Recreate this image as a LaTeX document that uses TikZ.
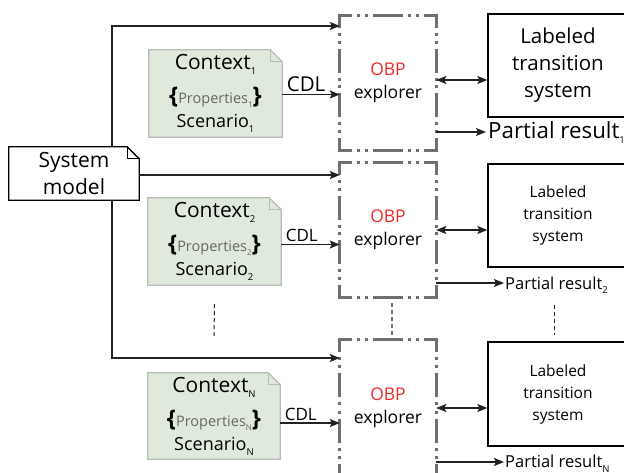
\documentclass[tikz,border=0pt]{standalone}
\usepackage{fontspec}
\setmainfont{Open Sans}
\usetikzlibrary{arrows.meta,backgrounds}
\definecolor{notegreen}{HTML}{E0EADC}
\definecolor{noteedge}{HTML}{B8BCB7}
\definecolor{explgray}{HTML}{707070}
\definecolor{obpred}{HTML}{EE2A2A}
\definecolor{linedark}{HTML}{222222}
\definecolor{propgray}{HTML}{666666}
\newcommand\fs[1]{\fontsize{#1}{#1}\selectfont}
\newcommand\subidx[1]{\raisebox{-5pt}{\fs{9.5}#1}}
\newcommand\subsmall[1]{\raisebox{-4pt}{\fs{8}#1}}
\newcommand\ctxtext[1]{Context\subidx{#1}\\[10pt]%
  {\fs{23}\textbf{\{}}{\color{propgray}\fs{14.5}Properties\subsmall{#1}}{\fs{23}\textbf{\}}}\\%
  {\fs{18}Scenario\subidx{#1}}}
\begin{document}
\begin{tikzpicture}[x=1pt,y=-1pt,
  tip/.style={-{Stealth[length=10pt,width=8pt,inset=2pt]}},
  tipboth/.style={{Stealth[length=10pt,width=8pt,inset=2pt]}-{Stealth[length=10pt,width=8pt,inset=2pt]}},
  conn/.style={draw=linedark,line width=1.3pt},
  explorer/.style={minimum width=96pt,minimum height=134pt,inner sep=0pt,align=center,
    font=\fontsize{17.5}{23}\selectfont},
  explborder/.style={draw=explgray,line width=2.7pt,line cap=butt,line join=miter,
    dash pattern=on 24pt off 5pt on 3pt off 5pt on 3pt off 5pt,dash phase=9pt},
  lts/.style={draw=black,line width=1.3pt,minimum width=140pt,minimum height=103pt,
    align=center,inner sep=0pt},
  ltsbig/.style={lts,font=\fontsize{20.5}{27}\selectfont},
  ltssmall/.style={lts,font=\fontsize{15.5}{22}\selectfont},
  ctxnote/.style={minimum width=133pt,minimum height=87pt,inner sep=0pt,align=center,
    font=\fontsize{21}{24}\selectfont},
  notefill/.style={draw=noteedge,line width=1.2pt,fill=notegreen},
  sysfill/.style={draw=black,line width=1.3pt,fill=white},
  cdl/.style={pos=0,anchor=base west,inner sep=0pt,xshift=4pt,yshift=3pt},
  result/.style={anchor=base west,inner sep=0pt},
  gapline/.style={draw=linedark,line width=1pt,dash pattern=on 4pt off 3pt},
]
\useasboundingbox (0,0) rectangle (624,473);
\clip (0,0) rectangle (624,473);

% explorers, with dash-dot-dot borders that stay solid at the corners
\node[explorer] (e1) at (388,83) {\textcolor{obpred}{OBP}\\explorer};
\node[explorer] (e2) at (388,230) {\textcolor{obpred}{OBP}\\explorer};
\node[explorer,minimum height=136pt] (eN) at (388,408) {\textcolor{obpred}{OBP}\\explorer};
\foreach \n in {e1,e2,eN}{
  \draw[explborder] (\n.north) -- (\n.north west) -- (\n.west);
  \draw[explborder] (\n.north) -- (\n.north east) -- (\n.east);
  \draw[explborder] (\n.south) -- (\n.south west) -- (\n.west);
  \draw[explborder] (\n.south) -- (\n.south east) -- (\n.east);
}

% transition systems
\node[ltsbig] (l1) at (558,65.5) {Labeled\\transition\\system};
\node[ltssmall] (l2) at (558,215.5) {Labeled\\transition\\system};
\node[ltssmall,minimum height=104pt] (lN) at (558,394) {Labeled\\transition\\system};

% context notes and the system model
\node[ctxnote] (c1) at (215.5,93.5) {\ctxtext{1}};
\node[ctxnote] (c2) at (214.5,241.5) {\ctxtext{2}};
\node[ctxnote,minimum width=132pt,minimum height=86pt] (cN) at (214,416) {\ctxtext{N}};

\node[minimum width=130pt,minimum height=53pt,inner sep=0pt,align=center,
  font=\fontsize{21}{27}\selectfont] (sys) at (74,173.5) {System\\model};

% folded-corner outlines behind the note texts
\begin{scope}[on background layer]
  \foreach \n/\s in {c1/notefill,c2/notefill,cN/notefill,sys/sysfill}{
    \draw[\s,line join=miter] (\n.south west) -- (\n.north west)
      -- ([xshift=-12pt]\n.north east) -- ([yshift=-12pt]\n.north east)
      -- (\n.south east) -- cycle;
    \draw[\s,fill=none] ([xshift=-12pt]\n.north east) |- ([yshift=-12pt]\n.north east);
  }
\end{scope}

% system model feeds every explorer
\coordinate (ctop) at (112,26);
\coordinate (cbot) at (112,358);
\draw[conn,tip] (sys.north -| ctop) -- (ctop) -- (ctop -| e1.west);
\coordinate (smid) at ([yshift=-1.5pt]sys.east);
\draw[conn,tip] (smid) -- (smid -| e2.west);
\draw[conn,tip] (sys.south -| cbot) -- (cbot) -- (cbot -| eN.west);

% contexts in CDL
\coordinate (k1) at ([yshift=-1pt]c1.east);
\coordinate (k2) at ([yshift=-3pt]c2.east);
\coordinate (kN) at ([yshift=-7pt]cN.east);
\draw[conn,tip] (k1) -- (k1 -| e1.west) node[cdl,font=\fs{20.5}] {CDL};
\draw[conn,tip] (k2) -- (k2 -| e2.west) node[cdl,font=\fs{17}] {CDL};
\draw[conn,tip] (kN) -- (kN -| eN.west) node[cdl,font=\fs{17}] {CDL};

% explorer <-> transition system
\draw[conn,tipboth] ([yshift=3pt]e1.east) -- ([yshift=3pt]e1.east -| l1.west);
\draw[conn,tipboth] (e2.east) -- (e2.east -| l2.west);
\draw[conn,tipboth] (eN.east) -- (eN.east -| lN.west);

% partial results
\node[result,font=\fs{22.3}] (pr1) at (488,139) {Partial result\subidx{1}};
\node[result,font=\fs{16.5}] (pr2) at (505,289) {Partial result\subidx{2}};
\node[result,font=\fs{16.5}] (prN) at (505,467) {Partial result\subidx{N}};
\coordinate (r1) at ([xshift=-2pt,yshift=7pt]pr1.base west);
\coordinate (r2) at ([xshift=-1pt,yshift=6pt]pr2.base west);
\coordinate (rN) at ([xshift=-1pt,yshift=5pt]prN.base west);
\draw[conn,tip] (r1 -| e1.east) -- (r1);
\draw[conn,tip] (r2 -| e2.east) -- (r2);
\draw[conn,tip] (rN -| eN.east) -- (rN);

% elided middle stages
\draw[gapline] ([yshift=-19pt]c2.south) -- ([yshift=37pt]cN.north);
\draw[gapline,draw=explgray,line width=1.3pt] ([xshift=4pt,yshift=-6pt]e2.south) -- ([xshift=4pt,yshift=4pt]eN.north);
\draw[gapline] ([xshift=-4pt,yshift=-37pt]l2.south) -- ([xshift=-4pt,yshift=6pt]lN.north);
\end{tikzpicture}
\end{document}
